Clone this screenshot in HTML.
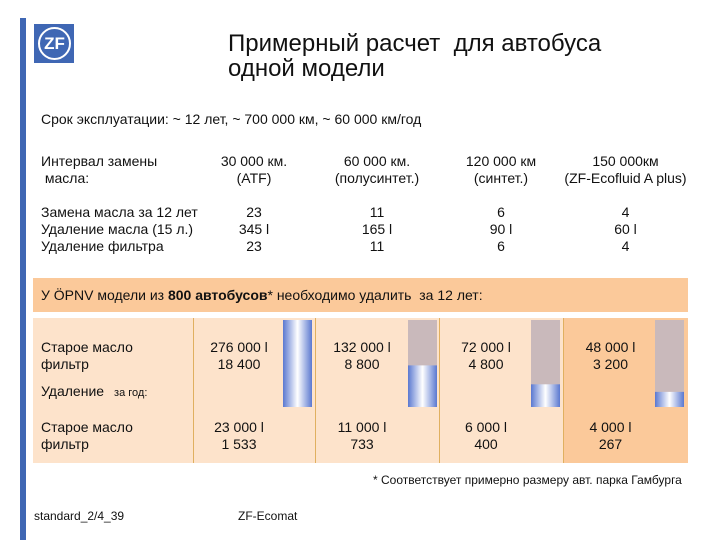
<!DOCTYPE html>
<html><head><meta charset="utf-8"><style>
body{margin:0;width:720px;height:540px;background:#fff;position:relative;overflow:hidden;font-family:"Liberation Sans",sans-serif;color:#111}
.a{position:absolute;white-space:nowrap}
.c{text-align:center;font-size:14px;line-height:17px}
.l{font-size:14px;line-height:17px}
</style></head><body>
<div class="a" style="left:20px;top:18px;width:6px;height:522px;background:#3f67b4"></div>
<div class="a" style="left:34px;top:24px;width:40px;height:39px;background:#3f67b4">
<div style="position:absolute;left:4px;top:3px;width:29px;height:29px;border:2px solid #fff;border-radius:50%;color:#fff;font-weight:bold;font-size:17px;line-height:29px;text-align:center">ZF</div></div>
<div class="a" style="left:228px;top:31px;font-size:24px;line-height:25px">Примерный расчет &nbsp;для автобуса<br>одной модели</div>
<div class="a l" style="left:41px;top:111px">Срок эксплуатации: ~ 12 лет, ~ 700 000 км, ~ 60 000 км/год</div>
<div class="a l" style="left:41px;top:153px">Интервал замены<br>&nbsp;масла:</div>
<div class="a c" style="left:193px;width:122px;top:153px">30 000 км.<br>(ATF)</div>
<div class="a c" style="left:315px;width:124px;top:153px">60 000 км.<br>(полусинтет.)</div>
<div class="a c" style="left:439px;width:124px;top:153px">120 000 км<br>(синтет.)</div>
<div class="a c" style="left:563px;width:125px;top:153px">150 000км<br>(ZF-Ecofluid A plus)</div>
<div class="a l" style="left:41px;top:204px">Замена масла за 12 лет<br>Удаление масла (15 л.)<br>Удаление фильтра</div>
<div class="a c" style="left:193px;width:122px;top:204px">23<br>345 l<br>23</div>
<div class="a c" style="left:315px;width:124px;top:204px">11<br>165 l<br>11</div>
<div class="a c" style="left:439px;width:124px;top:204px">6<br>90 l<br>6</div>
<div class="a c" style="left:563px;width:125px;top:204px">4<br>60 l<br>4</div>
<div class="a l" style="left:33px;top:278px;width:655px;height:34px;background:#fbc99a;line-height:34px;padding-left:8px;box-sizing:border-box">У ÖPNV модели из <b>800 автобусов</b>* необходимо удалить &nbsp;за 12 лет:</div>
<div class="a" style="left:33px;top:318px;width:655px;height:145px;background:#fde3cb"></div>
<div class="a" style="left:563px;top:318px;width:125px;height:145px;background:#fbc99a"></div>
<div class="a" style="left:193px;top:318px;width:1px;height:145px;background:#e0b060"></div>
<div class="a" style="left:315px;top:318px;width:1px;height:145px;background:#e0b060"></div>
<div class="a" style="left:439px;top:318px;width:1px;height:145px;background:#e0b060"></div>
<div class="a" style="left:563px;top:318px;width:1px;height:145px;background:#e0b060"></div>
<div class="a l" style="left:41px;top:339px">Старое масло<br>фильтр</div>
<div class="a l" style="left:41px;top:383px">Удаление <span style="font-size:11px">&nbsp;&nbsp;за год:</span></div>
<div class="a l" style="left:41px;top:419px">Старое масло<br>фильтр</div>
<div id="vals"></div>
<svg class="a" style="left:0;top:0" width="720" height="540" id="bars">
<defs><linearGradient id="g" x1="0" x2="1"><stop offset="0" stop-color="#5a78d0"/><stop offset="0.5" stop-color="#ffffff"/><stop offset="1" stop-color="#5a78d0"/></linearGradient></defs>
</svg>
<div class="a" style="left:373px;top:473px;font-size:12px">* Соответствует примерно размеру авт. парка Гамбурга</div>
<div class="a" style="left:34px;top:509px;font-size:12px">standard_2/4_39</div>
<div class="a" style="left:238px;top:509px;font-size:12px">ZF-Ecomat</div>
<script>
const oilTotal=[276000,132000,72000,48000];
const filterTotal=[18400,8800,4800,3200];
const oilYear=[23000,11000,6000,4000];
const filterYear=[1533,733,400,267];
const colLeft=[193,315,439,563],colW=[122,124,124,125],barX=[283,408,531,655];
const fmt=v=>v.toLocaleString('ru-RU').replace(/\s/g,' ');
const vals=document.getElementById('vals');
for(let i=0;i<4;i++){
 const d=document.createElement('div');d.className='a c';
 d.style.cssText=`left:${colLeft[i]}px;width:${colW[i]-30}px;top:339px`;
 d.innerHTML=fmt(oilTotal[i])+' l<br>'+fmt(filterTotal[i]);
 
 
 vals.appendChild(d);
 const e=document.createElement('div');e.className='a c';
 e.style.cssText=`left:${colLeft[i]}px;width:${colW[i]-30}px;top:419px`;
 e.innerHTML=fmt(oilYear[i])+' l<br>'+fmt(filterYear[i]);
 
 
 vals.appendChild(e);
}
const svg=document.getElementById('bars'),ns='http://www.w3.org/2000/svg';
const top0=320,bh=87,maxV=oilTotal[0];
const y=v=>top0+bh-v/maxV*bh;
for(let i=0;i<4;i++){
 const bg=document.createElementNS(ns,'rect');
 bg.setAttribute('x',barX[i]);bg.setAttribute('y',top0);bg.setAttribute('width',29);bg.setAttribute('height',bh);bg.setAttribute('fill','#c9b9bb');
 
 
 svg.appendChild(bg);
 const r=document.createElementNS(ns,'rect');
 r.setAttribute('x',barX[i]);r.setAttribute('y',y(oilTotal[i]));r.setAttribute('width',29);r.setAttribute('height',top0+bh-y(oilTotal[i]));r.setAttribute('fill','url(#g)');
 
 
 svg.appendChild(r);
}
</script>
</body></html>
